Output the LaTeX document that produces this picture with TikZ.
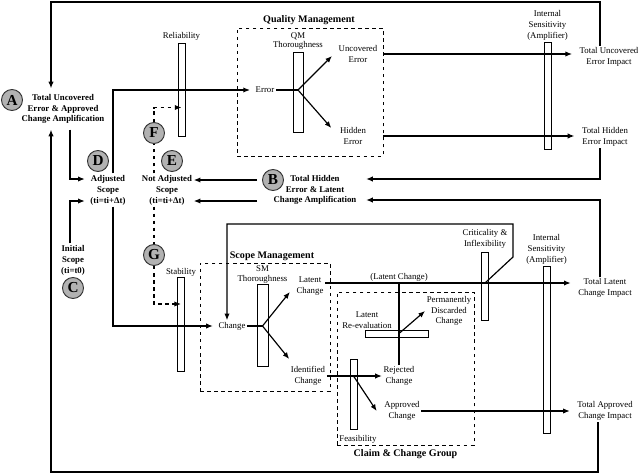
\documentclass[tikz,border=0pt]{standalone}
\usepackage{fontspec}
\setmainfont{Liberation Serif}
\usepackage{tikz}
\usetikzlibrary{positioning, calc, fit}
\usetikzlibrary{arrows.meta}
\tikzset{>={Latex[width=1.6mm,length=2mm]}}

\begin{document}
\begin{tikzpicture}[x=0.03cm, y=-0.03cm, line width=1pt, txt/.style={align=center, inner sep=1pt, font=\fontsize{7.5}{9.3}\selectfont}, boldtxt/.style={txt, font=\bfseries\fontsize{7.5}{9.3}\selectfont}, impact/.style={txt, inner xsep=6pt}, title/.style={inner sep=1pt, font=\bfseries\fontsize{8.6}{10}\selectfont}, letter/.style={circle, draw=black!80, thick, fill=black!30, minimum size=0.63cm, inner sep=0pt, font=\bfseries\fontsize{13}{13}\selectfont}, vbar/.style={draw, fill=white, semithick, minimum width=0.21cm, inner sep=0pt}, hbar/.style={draw, fill=white, semithick, minimum height=0.21cm, inner sep=0pt}, groupbox/.style={draw, dashed, semithick, inner sep=0pt}]
    \useasboundingbox (0,0) rectangle (642,476);

    %Nodes
    \node[letter](circA) at (12,100){A};
    \node[boldtxt](ampA) at (63,109){Total Uncovered\\Error \& Approved\\Change Amplification};
    \node[letter](circD) at (98,161){D};
    \node[boldtxt](adj) at (108,190){Adjusted\\Scope\\(ti=ti+Δt)};
    \node[letter](circE) at (172,161){E};
    \node[boldtxt](notadj) at (167,190){Not Adjusted\\Scope\\(ti=ti+Δt)};
    \node[letter](circF) at (154,133){F};
    \node[letter](circG) at (154,255){G};
    \node[boldtxt](init) at (73,260){Initial\\Scope\\(ti=t0)};
    \node[letter](circC) at (73,288){C};
    \node[letter](circB) at (273,180){B};
    \node[boldtxt](ampB) at (315,190){Total Hidden\\Error \& Latent\\Change Amplification};

    %Quality management
    \node[groupbox, fit={(237,28) (383,156)}](qmbox){};
    \node[title](qmtitle) at (309,20){Quality Management};
    \node[vbar, minimum height=2.79cm](relbar) at (181.5,89.5){};
    \node[txt](rellbl)[above=0pt of relbar]{Reliability};
    \node[vbar, minimum width=0.3cm, minimum height=2.4cm](qmbar) at (298,92){};
    \node[txt, font=\fontsize{7.5}{8.4}\selectfont](qmlbl)[above=0pt of qmbar]{QM\\Thoroughness};
    \node[txt](error) at (265,90){Error};
    \node[txt](unc) at (358,54){Uncovered\\Error};
    \node[txt](hid) at (353,136){Hidden\\Error};
    \node[vbar, minimum height=3.21cm](isbarA) at (547.5,95.5){};
    \node[txt](islblA)[above=0pt of isbarA]{Internal\\Sensitivity\\(Amplifier)};
    \node[impact](totunc) at (609,57){Total Uncovered\\Error Impact};
    \node[impact](tothid) at (605,137){Total Hidden\\Error Impact};

    %Scope management
    \node[groupbox, fit={(200,263) (330,391)}](smbox){};
    \node[title](smtitle) at (272,256){Scope Management};
    \node[vbar, minimum height=2.82cm](stabbar) at (181,324){};
    \node[txt](stablbl)[above=-1pt of stabbar]{Stability};
    \node[vbar, minimum width=0.33cm, minimum height=2.46cm](smbar) at (262.5,325){};
    \node[txt, font=\fontsize{7.5}{8.2}\selectfont](smlbl)[above=-1pt of smbar]{SM\\Thoroughness};
    \node[txt](change) at (232,326){Change};
    \node[txt](latent) at (310,286){Latent\\Change};
    \node[txt](ident) at (308,376){Identified\\Change};
    \node[vbar, minimum height=2.04cm](critbar) at (485,286){};
    \node[txt](critlbl)[above=1pt of critbar]{Criticality \&\\Inflexibility};
    \node[vbar, minimum height=5.01cm](isbarB) at (546.5,349.5){};
    \node[txt](islblB)[above=0pt of isbarB]{Internal\\Sensitivity\\(Amplifier)};
    \node[impact](totlat) at (605,288){Total Latent\\Change Impact};
    \node[impact](totapp) at (605,411){Total Approved\\Change Impact};

    %Claim & change group
    \node[groupbox, fit={(337,292) (474,445)}](ccgbox){};
    \node[title](ccgtitle)[below=2pt of ccgbox]{Claim \& Change Group};
    \node[hbar, minimum width=1.89cm](lrbar) at (396.5,333.5){};
    \node[txt](latlbl) at (367,320){Latent\\Re-evaluation};
    \node[txt](perm) at (449,311){Permanently\\Discarded\\Change};
    \node[txt](rej) at (399,376){Rejected\\Change};
    \node[txt](app) at (402,411){Approved\\Change};
    \node[vbar, minimum height=2.1cm](feasbar) at (353.5,394){};
    \node[txt](feaslbl) at (358,439){Feasibility};

    %Corners
    \coordinate (topL) at (51,2);
    \coordinate (topR) at (600,2);
    \coordinate (botL) at (51,472);
    \coordinate (botR) at (598,472);
    \coordinate (qmfork) at (qmbar.center |- error.east);
    \coordinate (smfork) at (smbar.center |- change.east);
    \coordinate (ccfork) at (feasbar.center |- ident.east);
    \coordinate (latline) at ($(latent.east)+(0,-3)$);
    \coordinate (critknee) at (513,257);
    \coordinate (critup) at (513,224);
    \node[txt, above=0pt](latchg) at (rej.north |- latline){(Latent Change)};

    %Lines
    \draw[->] (totunc.north -| topR) -- (topR) -- (topL) -- ($(ampA.north -| topL)+(0,-4)$);
    \draw[->] (totapp.south -| botR) -- (botR) -- (botL) -- ($(ampA.south -| botL)+(0,4)$);
    \draw[->] ($(ampA.south)+(7,4)$) |- ($(adj.west)+(-4,-11)$);
    \draw[->] ($(init.north)+(-3,0)$) |- ($(adj.west)+(-4,11)$);
    \draw[->] ($(adj.north)+(5,0)$) |- ($(error.west)+(-4,0)$);
    \draw[->] ($(adj.south)+(5,0)$) |- ($(change.west)+(-4,0)$);
    \draw[dashed] (notadj.north -| circF) -- (circF.south);
    \draw[dashed, ->] (circF.north) |- ($(relbar.center)+(0,18)$);
    \draw[dashed] (notadj.south -| circF) -- (circG.north);
    \draw[dashed, ->] (circG.south) |- ($(stabbar.center)+(0,-20)$);
    \draw[->] ($(circB.west)+(-5,0)$) -- (circB.west -| notadj.east);
    \draw[->] ($(circB.west |- ampB.center)+(-5,11)$) -- ($(notadj.east)+(0,11)$);
    \draw[->] (tothid.south -| topR) |- ($(ampB.east)+(8,-11)$);
    \draw[->] (totlat.north -| topR) |- ($(ampB.east)+(8,10)$);
    \draw (error.east) -- (qmfork);
    \draw[->] (qmfork) -- ($(unc.west)+(-5,2)$);
    \draw[->] (qmfork) -- ($(hid.west)+(-7,-8)$);
    \draw[->] (qmbox.east |- unc) -- (unc -| totunc.west);
    \draw[->] (qmbox.east |- hid) -- (hid -| tothid.west);
    \draw (change.east) -- (smfork);
    \draw[->] (smfork) -- ($(latent.west)+(-5,6)$);
    \draw[->] (smfork) -- ($(ident.west)+(0,-17)$);
    \draw[->] (latline) -- (latline -| totlat.west);
    \draw (rej.north) -- (rej.north |- latline);
    \draw[->] (rej.north |- lrbar.center) -- (perm.west);
    \draw[->] (ident.east) -- (ident.east -| rej.west);
    \draw[->] (ccfork) -- ($(app.west)+(-6,0)$);
    \draw[->] (app.east) -- (app.east -| totapp.west);
    \draw[->] (critbar.center |- latline) -- (critknee) -- (critup) -| ($(change.north)+(-5,0)$);

\end{tikzpicture}
\end{document}
